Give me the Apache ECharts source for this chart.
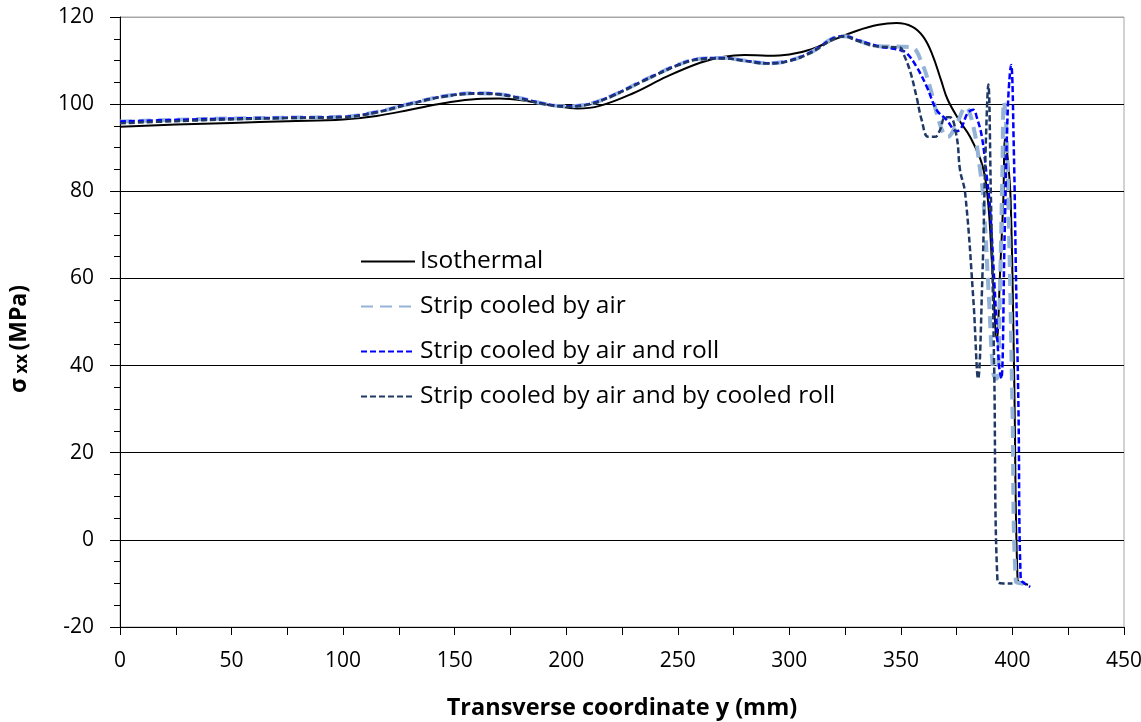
<!DOCTYPE html>
<html>
<head>
<meta charset="utf-8">
<script src="https://cdn.jsdelivr.net/npm/echarts@6/dist/echarts.min.js"></script>
<style>
html,body{margin:0;padding:0;background:#fff;}
#chart{width:1141px;height:722px;}
</style>
</head>
<body>
<div id="chart"></div>
<script>
// ---- data ----
const seriesNames = ['Isothermal','Strip cooled by air','Strip cooled by air and roll','Strip cooled by air and by cooled roll'];

const isoX = [0,25,50,75,100,115,130,145,160,170,180,195,205,215,230,245,260,270,280,290,300,310,320,330,340,348,355,360,364,368,371,376.5,381,386.5,389,391,393,394.5,395.9,396.7,397.8,399.2,400.8,402.3,404,407];
const isoY = [94.8,95.3,95.7,96.1,96.5,97.3,98.7,100.2,101.2,101.3,100.9,99.6,99,99.6,102.5,106.3,109.5,110.8,111.3,111.1,111.4,112.6,114.8,116.8,118.2,118.6,117.8,115.5,111.5,105.5,101,96,92.5,86,78,62,46,62,78,92,88,78,36.7,-9.2,-9.8,-10.3];

const airX = [0,25,50,75,100,115,130,145,160,170,180,190,200,210,220,235,250,260,270,280,290,300,310,320,325,330,340,350,355,359,363,366,369,371,375,379,382.5,385.5,387,389.5,391.5,393,394.5,395.5,396.2,397.2,398.5,400,401.5,404,407];
const airY = [96,96.4,96.7,96.9,97.1,98.2,100.1,101.8,102.5,102.3,101.3,100.1,99.5,100,101.8,105.5,109,110.4,110.6,110,109.4,110,112,115.2,115.6,114.8,113.3,113.2,113,110,104,98,93.4,92.5,95.5,99.3,94.8,84.9,78,55,38,37,60,85,100.5,95,70,30,-9.5,-10,-10.5];

const rollX = [0,25,50,75,100,115,130,145,160,170,180,190,200,210,220,235,250,260,270,280,290,300,310,320,325,330,340,349.6,352.6,357,361.6,366,370.5,375,377,380,382.5,384,386.3,388.5,389.9,392,394,395,396.5,398,399.4,400.6,401.6,402.7,403.7,405.5,408];
const rollY = [96,96.4,96.7,96.9,97.1,98.2,100.1,101.8,102.5,102.3,101.3,100.1,99.5,100,101.8,105.5,109,110.4,110.6,110,109.4,110,112,115.2,115.6,114.8,113.3,112.4,111.7,108.6,104,98.7,96.4,93.8,94.5,98,98.7,97,92.5,83.3,76.4,58,40,37,70,100,109,90,60,30,-9,-10,-10.8];

const cooledX = [0,25,50,75,100,115,130,145,160,170,180,190,200,210,220,235,250,260,270,280,290,300,310,320,325,330,340,349.6,351,354,357,359.3,362.2,365.3,367.5,369.8,372,375,376.5,378.8,382.5,384.6,386.5,388,389.2,390.3,391.8,393.3,396,400];
const cooledY = [95.6,96.1,96.5,96.8,97,98.1,100,101.7,102.4,102.2,101.2,100,99.4,99.9,101.7,105.4,108.9,110.3,110.5,109.9,109.3,109.9,111.9,115,115.5,114.6,113.2,113,111.7,107.8,101.7,96.4,92.5,92.5,94,97,97,92.5,84.9,79.6,55,37,60,90,104.5,80,40,-9.5,-10,-10];

const xTicks = {min:0, max:450, interval:50};
const yTicks = {min:-20, max:120, interval:20};

function zip(xs, ys){ return xs.map((x,i)=>[x, ys[i]]); }

const FONT = '"Open Sans", Lato, sans-serif';
const chart = echarts.init(document.getElementById('chart'), null, {renderer:'canvas'});

const styles = [
  {color:'#000000', width:2, type:'solid'},
  {color:'#95B3D7', width:4, type:[12,7]},
  {color:'#0000FF', width:2.5, type:[6,3]},
  {color:'#1F3864', width:2.5, type:[6,3]}
];
const datas = [zip(isoX,isoY), zip(airX,airY), zip(rollX,rollY), zip(cooledX,cooledY)];

chart.setOption({
  animation:false,
  backgroundColor:'#fff',
  grid:{left:120, right:17, top:17, bottom:95, containLabel:false, outerBoundsMode:'none',
        show:true, borderColor:'#a6a6a6', borderWidth:1},
  legend:{
    orient:'vertical', left:355, top:244,
    itemWidth:54, itemHeight:14, itemGap:20,
    itemStyle:{opacity:0},
    textStyle:{fontFamily:FONT, fontSize:24.5, color:'#000', lineHeight:24},
    data:seriesNames
  },
  graphic:[{
    type:'text', rotation:Math.PI/2,
    style:{
      text:'{a|σ}{b| xx} {a|(MPa)}',
      rich:{
        a:{fontFamily:FONT, fontSize:23, fontWeight:'bold', fill:'#000'},
        b:{fontFamily:FONT, fontSize:17, fontWeight:'bold', fill:'#000', verticalAlign:'bottom'}
      }
    },
    x:8, y:393
  }],
  xAxis:{
    type:'value', min:xTicks.min, max:xTicks.max, interval:xTicks.interval,
    name:'Transverse coordinate y (mm)', nameLocation:'middle', nameGap:69,
    nameTextStyle:{fontFamily:FONT, fontSize:23.5, fontWeight:'bold', color:'#000'},
    axisLine:{show:true, onZero:false, lineStyle:{color:'#000', width:1}},
    axisTick:{show:true, length:8, lineStyle:{color:'#000'}},
    minorTick:{show:true, splitNumber:2, length:8, lineStyle:{color:'#000'}},
    axisLabel:{fontFamily:FONT, fontSize:21, color:'#000', margin:24},
    splitLine:{show:false}
  },
  yAxis:{
    type:'value', min:yTicks.min, max:yTicks.max, interval:yTicks.interval,
    axisLine:{show:true, onZero:false, lineStyle:{color:'#000', width:1}},
    axisTick:{show:true, length:10, lineStyle:{color:'#000'}},
    minorTick:{show:true, splitNumber:4, length:6, lineStyle:{color:'#000'}},
    axisLabel:{fontFamily:FONT, fontSize:21, color:'#000', margin:26},
    splitLine:{show:true, lineStyle:{color:['#000','#000','#000','#000','#000','#000','#000','#a6a6a6'], width:1}}
  },
  series: seriesNames.map((n,i)=>({
    name:n, type:'line', data:datas[i], symbol:'none', smooth:0.4,
    lineStyle:{color:styles[i].color, width:styles[i].width, type:styles[i].type},
    itemStyle:{color:styles[i].color},
    z:2+i
  }))
});
</script>
</body>
</html>
